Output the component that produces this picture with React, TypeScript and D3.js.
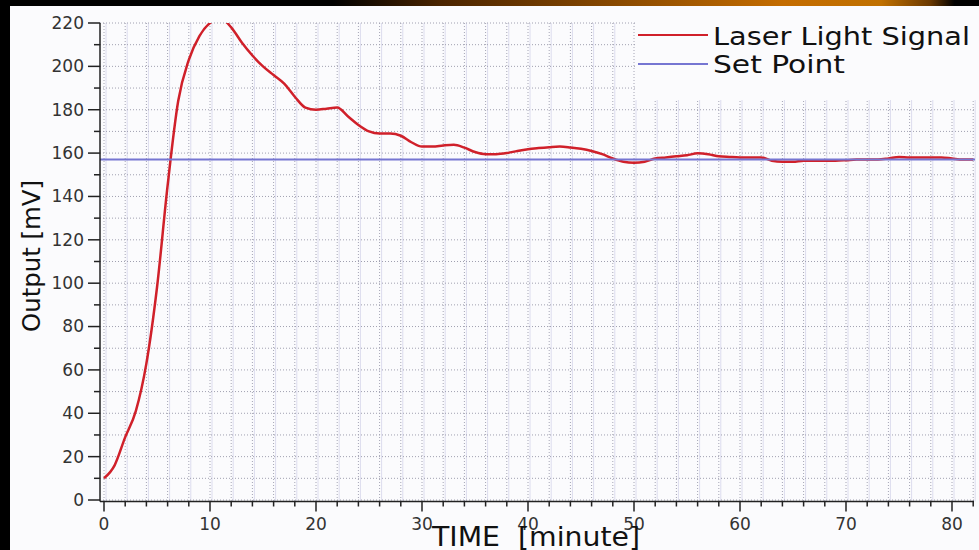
import React from "react";
import * as d3 from "d3";

// time in minutes, output in mV
const minutes = [
  0, 1, 2, 3, 4, 5, 6, 7, 8, 9, 10, 11, 12, 13, 14, 15, 16, 17, 18, 19, 20,
  21, 22, 23, 24, 25, 26, 27, 28, 29, 30, 31, 32, 33, 34, 35, 36, 37, 38, 39,
  40, 41, 42, 43, 44, 45, 46, 47, 48, 49, 50, 51, 52, 53, 54, 55, 56, 57, 58,
  59, 60, 61, 62, 63, 64, 65, 66, 67, 68, 69, 70, 71, 72, 73, 74, 75, 76, 77,
  78, 79, 80, 81, 82,
];
const laserSignal = [
  10, 16, 29, 41, 63, 98, 145, 184, 203, 214, 220, 222, 218, 211, 205, 200,
  196, 192, 186, 181, 180, 180.5, 181, 177, 173, 170, 169, 169, 168, 165,
  163, 163, 163.5, 163.8, 162.5, 160.5, 159.5, 159.5, 160, 161, 161.8, 162.3,
  162.7, 163, 162.6, 162, 161, 159.5, 157.5, 156, 155.5, 156, 157.5, 158,
  158.5, 159, 159.9, 159.5, 158.5, 158.2, 158, 158, 158, 156.5, 156, 156,
  156.5, 156.5, 156.5, 156.5, 156.7, 157, 157, 157, 157.5, 158.2, 158, 158,
  158, 158, 157.5, 157, 157,
];
const setPoint = 157;

const yTickLabels = [0, 20, 40, 60, 80, 100, 120, 140, 160, 180, 200, 220];
const xTickLabels = [0, 10, 20, 30, 40, 50, 60, 70, 80];

const W = 979;
const H = 550;
const FONT = "DejaVu Sans, Verdana, sans-serif";

export default function App() {
  const x = d3.scaleLinear().domain([0, 82]).range([104, 973.2]);
  const y = d3.scaleLinear().domain([0, 220]).range([500, 23]);

  const pts = minutes.map((m, i) => [m, laserSignal[i]] as [number, number]);
  const line = d3
    .line<[number, number]>()
    .x((d) => x(d[0]))
    .y((d) => y(d[1]))
    .curve(d3.curveMonotoneX);

  const vGrid = d3.range(0, 83, 2);
  const hGrid = d3.range(0, 221, 10);
  const axisY = 501.5;
  const axisX = 100;

  return (
    <div style={{ position: "fixed", left: 0, top: 0 }}>
      <svg width={W} height={H} style={{ display: "block" }}>
        <defs>
          <linearGradient id="topbar" x1="0" x2="1" y1="0" y2="0">
            <stop offset="0" stopColor="#000" />
            <stop offset="0.34" stopColor="#000" />
            <stop offset="0.45" stopColor="#4a2400" />
            <stop offset="0.8" stopColor="#c46c00" />
            <stop offset="0.9" stopColor="#c07000" />
            <stop offset="0.95" stopColor="#6a3800" />
            <stop offset="0.975" stopColor="#000" />
          </linearGradient>
          <clipPath id="plotclip">
            <rect x={axisX} y={y(220)} width={W - axisX} height={axisY - y(220)} />
          </clipPath>
        </defs>

        {/* background */}
        <rect x={0} y={0} width={W} height={H} fill="#000" />
        <rect x={0} y={0} width={W} height={6} fill="url(#topbar)" />
        <rect x={10} y={6} width={W - 10} height={H - 6} fill="#fbfbfd" />

        {/* grid */}
        {vGrid.map((t) => (
          <g key={"v" + t}>
            <line x1={x(t) + 2} x2={x(t) + 2} y1={y(220)} y2={axisY} stroke="#dcdcee" strokeWidth={1} />
            <line x1={x(t)} x2={x(t)} y1={y(220)} y2={axisY} stroke="#a4a4b4" strokeWidth={1} strokeDasharray="1,2" />
          </g>
        ))}
        {hGrid.map((v) => (
          <line key={"h" + v} x1={axisX} x2={W - 4} y1={y(v)} y2={y(v)} stroke="#a0a0b0" strokeWidth={1} strokeDasharray="1,2" />
        ))}

        {/* legend box */}
        <rect x={635} y={10} width={W - 635} height={90} fill="#fbfbfd" />

        {/* signal */}
        <path d={line(pts) || ""} fill="none" stroke="#d0202a" strokeWidth={2.5} clipPath="url(#plotclip)" />
        <line x1={axisX} x2={W - 4} y1={y(setPoint)} y2={y(setPoint)} stroke="#7676d2" strokeWidth={2} />

        {/* y axis */}
        <line x1={axisX} x2={axisX} y1={y(220)} y2={axisY} stroke="#222" strokeWidth={1.5} />
        {hGrid.map((v) => (
          <line key={"yt" + v} x1={v % 20 === 0 ? axisX - 12 : axisX - 6} x2={axisX} y1={y(v)} y2={y(v)} stroke="#222" strokeWidth={1.5} />
        ))}
        {yTickLabels.map((v) => (
          <text key={"yl" + v} x={84} y={y(v)} dy="0.35em" textAnchor="end" fontFamily={FONT} fontSize={17} fill="#333">
            {v}
          </text>
        ))}

        {/* x axis */}
        <line x1={axisX} x2={W - 5} y1={axisY} y2={axisY} stroke="#222" strokeWidth={1.5} />
        {vGrid.map((t) => (
          <line key={"xt" + t} x1={x(t)} x2={x(t)} y1={axisY} y2={t % 10 === 0 ? axisY + 10 : axisY + 5} stroke="#222" strokeWidth={1.5} />
        ))}
        {xTickLabels.map((t) => (
          <text key={"xl" + t} x={x(t)} y={530} textAnchor="middle" fontFamily={FONT} fontSize={17} fill="#333">
            {t}
          </text>
        ))}

        {/* axis titles */}
        <text x={432} y={546} fontFamily={FONT} fontSize={26} fill="#111" xmlSpace="preserve" textLength={208} lengthAdjust="spacingAndGlyphs">
          {"TIME  [minute]"}
        </text>
        <text
          transform={`translate(40,256) rotate(-90)`}
          textAnchor="middle"
          fontFamily={FONT}
          fontSize={25}
          fill="#111"
          textLength={152}
          lengthAdjust="spacingAndGlyphs"
        >
          Output [mV]
        </text>

        {/* legend */}
        <line x1={638} x2={708} y1={35} y2={35} stroke="#d0202a" strokeWidth={2} />
        <text x={713} y={45} fontFamily={FONT} fontSize={25} fill="#111" textLength={257} lengthAdjust="spacingAndGlyphs">
          Laser Light Signal
        </text>
        <line x1={638} x2={708} y1={64} y2={64} stroke="#7676d2" strokeWidth={2} />
        <text x={713} y={73} fontFamily={FONT} fontSize={25} fill="#111" textLength={132} lengthAdjust="spacingAndGlyphs">
          Set Point
        </text>
      </svg>
    </div>
  );
}
